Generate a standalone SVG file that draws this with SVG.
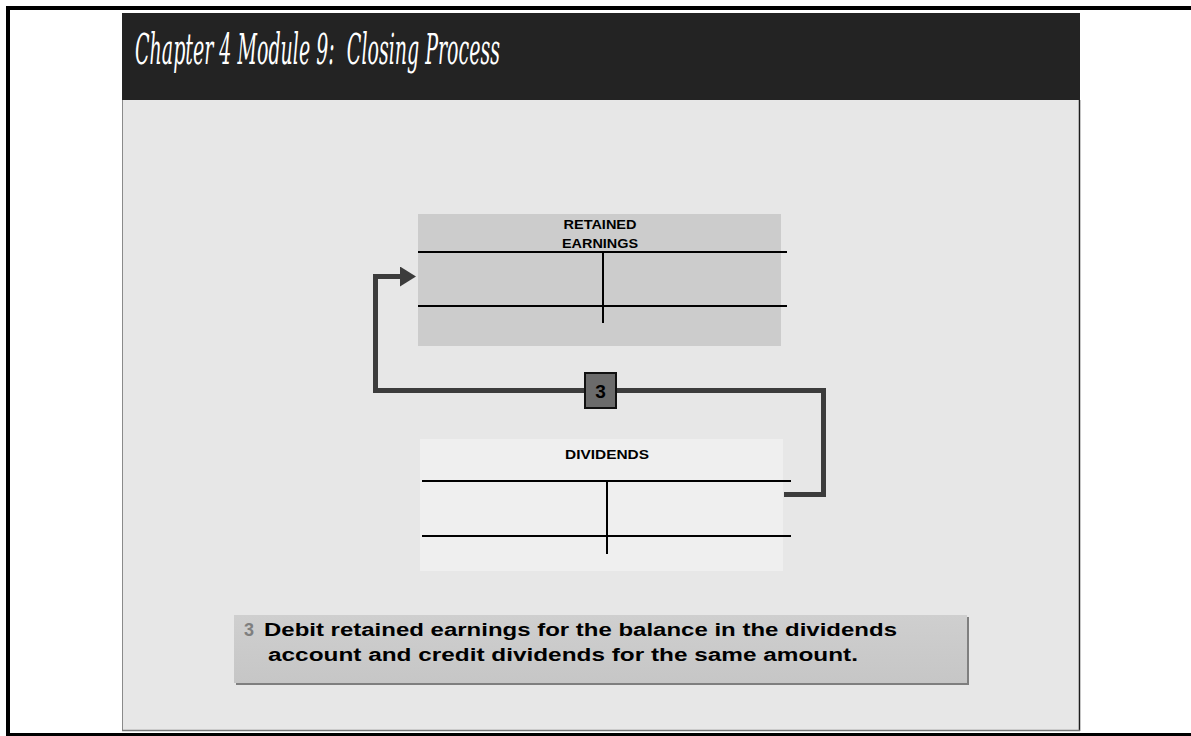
<svg xmlns="http://www.w3.org/2000/svg" width="1191" height="736" viewBox="0 0 1191 736">
<style>
.acct{font-family:"Liberation Sans",Arial,sans-serif;font-weight:bold;font-size:12px;fill:#000;text-anchor:middle}
.tline{stroke:#000;stroke-width:2;fill:none}
.conn{stroke:#3c3c3c;stroke-width:5;fill:none;stroke-linejoin:miter}
.note{font-family:"Liberation Sans",Arial,sans-serif;font-weight:bold;font-size:18px;fill:#000}
.note.num{fill:#7f7f7f}
</style>
<defs>
<marker id="ah" markerWidth="4" markerHeight="4" refX="0" refY="2" orient="auto" markerUnits="strokeWidth">
<path d="M0,0 L3.2,2 L0,4 Z" fill="#3c3c3c"/>
</marker>
<linearGradient id="ng" x1="0" y1="0" x2="0" y2="1">
<stop offset="0" stop-color="#cfcfcf"/>
<stop offset="1" stop-color="#c6c6c6"/>
</linearGradient>
</defs>
<rect width="1191" height="736" fill="#fff"/>
<!-- outer frame -->
<rect x="6" y="6" width="1185" height="4" fill="#000"/>
<rect x="6" y="6" width="4" height="730" fill="#000"/>
<rect x="6" y="733" width="1185" height="3" fill="#000"/>
<!-- slide -->
<g id="slide">
<rect x="122" y="100" width="958" height="631" fill="#e7e7e7"/>
<line x1="122.5" y1="100" x2="122.5" y2="731" stroke="#8a8a8a" stroke-width="1"/>
<line x1="1079.5" y1="100" x2="1079.5" y2="731" stroke="#1e1e1e" stroke-width="1.5"/>
<line x1="122" y1="730.5" x2="1080" y2="730.5" stroke="#7a7a7a" stroke-width="1.5"/>
<rect x="122" y="13" width="958" height="87" fill="#232323"/>
<text x="135" y="64" font-family="'DejaVu Serif','Liberation Serif',serif" font-style="italic" font-size="42" fill="#fff" textLength="365" lengthAdjust="spacingAndGlyphs">Chapter 4 Module 9:&#160; Closing Process</text>
</g>
<g id="retained-earnings">
<rect x="418" y="214" width="363" height="132" fill="#cccccc"/>
<text class="acct" x="600" y="229" textLength="73" lengthAdjust="spacingAndGlyphs">RETAINED</text>
<text class="acct" x="600" y="248" textLength="76" lengthAdjust="spacingAndGlyphs">EARNINGS</text>
<line class="tline" x1="418" y1="252" x2="787" y2="252"/>
<line class="tline" x1="418" y1="306" x2="787" y2="306"/>
<line class="tline" x1="603" y1="252" x2="603" y2="323"/>
</g>
<g id="dividends">
<rect x="420" y="439" width="363" height="132" fill="#efefef"/>
<text class="acct" x="607" y="459" textLength="84" lengthAdjust="spacingAndGlyphs">DIVIDENDS</text>
<line class="tline" x1="422" y1="481" x2="791" y2="481"/>
<line class="tline" x1="422" y1="536" x2="791" y2="536"/>
<line class="tline" x1="607" y1="481" x2="607" y2="554"/>
</g>
<g id="connectors">
<path class="conn" d="M784,494.5 H823.5 V390.5 H375.5 V276.5 H400" marker-end="url(#ah)"/>
</g>
<g id="step-badge">
<rect x="585" y="373" width="31" height="35" fill="#6b6b6b" stroke="#111" stroke-width="2"/>
<text x="600.5" y="398" font-family="'Liberation Sans',Arial,sans-serif" font-weight="bold" font-size="19" text-anchor="middle" fill="#000">3</text>
</g>
<g id="note">
<rect x="236" y="617" width="733" height="68" fill="#7f7f7f"/>
<rect x="234" y="615" width="733" height="68" fill="url(#ng)"/>
<text class="note num" x="244" y="636">3</text>
<text class="note" x="264" y="636" textLength="633" lengthAdjust="spacingAndGlyphs">Debit retained earnings for the balance in the dividends</text>
<text class="note" x="268" y="661" textLength="590" lengthAdjust="spacingAndGlyphs">account and credit dividends for the same amount.</text>
</g>
</svg>
